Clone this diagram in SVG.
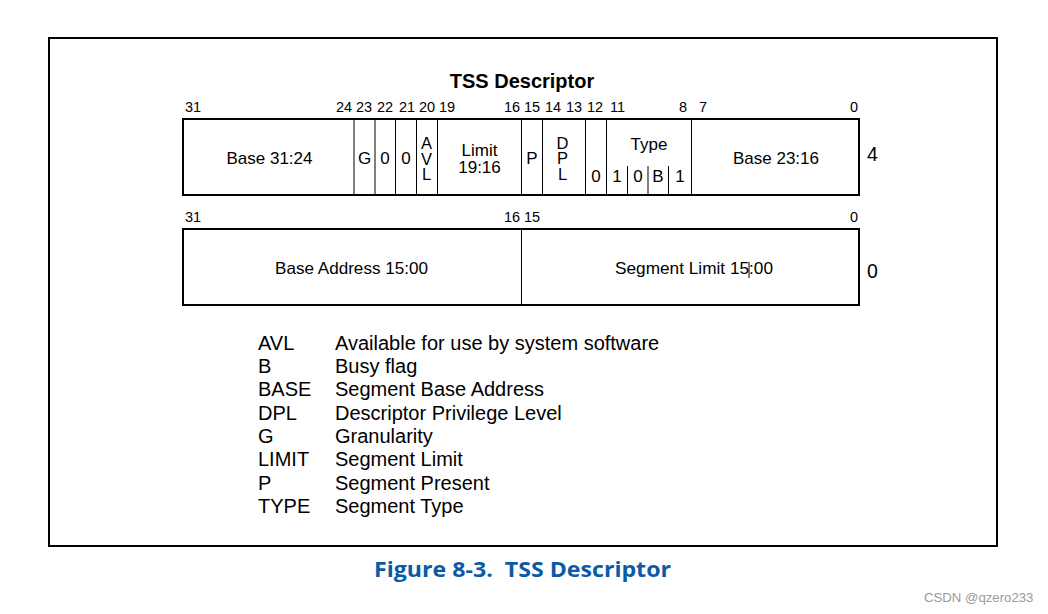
<svg xmlns="http://www.w3.org/2000/svg" width="1048" height="614" viewBox="0 0 1048 614">
<style>
.t{font-family:"Liberation Sans",Arial,sans-serif;fill:#000}
.bit{font-size:14.5px}
.cell{font-size:17px;text-anchor:middle}
.vert{font-size:16.5px;text-anchor:middle}
.leg{font-size:20px}
.frame{fill:none;stroke:#000;stroke-width:2}
.row{fill:#fff;stroke:#000;stroke-width:2}
.div{stroke:#000;stroke-width:1}
</style>
<rect x="0" y="0" width="1048" height="614" fill="#fff"/>
<rect class="frame" x="49" y="38" width="948" height="508"/>
<text class="t" x="522" y="88" font-size="20" font-weight="bold" text-anchor="middle">TSS Descriptor</text>

<g id="bits-top" class="t bit">
<text x="185" y="112">31</text>
<text x="336" y="112">24</text>
<text x="356" y="112">23</text>
<text x="377" y="112">22</text>
<text x="399" y="112">21</text>
<text x="419" y="112">20</text>
<text x="439" y="112">19</text>
<text x="504" y="112">16</text>
<text x="524" y="112">15</text>
<text x="545" y="112">14</text>
<text x="566" y="112">13</text>
<text x="587" y="112">12</text>
<text x="610" y="112">11</text>
<text x="679" y="112">8</text>
<text x="699" y="112">7</text>
<text x="850" y="112">0</text>
</g>

<g id="row-high">
<rect class="row" x="183" y="119" width="676" height="76"/>
<line class="div" x1="354" y1="119" x2="354" y2="195"/>
<line class="div" x1="375" y1="119" x2="375" y2="195"/>
<line class="div" x1="395.5" y1="119" x2="395.5" y2="195"/>
<line class="div" x1="416.5" y1="119" x2="416.5" y2="195"/>
<line class="div" x1="437.5" y1="119" x2="437.5" y2="195"/>
<line class="div" x1="521.5" y1="119" x2="521.5" y2="195"/>
<line class="div" x1="542.5" y1="119" x2="542.5" y2="195"/>
<line class="div" x1="585.5" y1="119" x2="585.5" y2="195"/>
<line class="div" x1="606.5" y1="119" x2="606.5" y2="195"/>
<line class="div" x1="627.5" y1="166" x2="627.5" y2="195"/>
<line class="div" x1="648" y1="166" x2="648" y2="195"/>
<line class="div" x1="668.5" y1="166" x2="668.5" y2="195"/>
<line class="div" x1="691.5" y1="119" x2="691.5" y2="195"/>
<g class="t cell">
<text x="269.5" y="164">Base 31:24</text>
<text x="364.5" y="164">G</text>
<text x="385" y="164">0</text>
<text x="406" y="164">0</text>
<text x="479.5" y="156">Limit</text>
<text x="479.5" y="173">19:16</text>
<text x="532" y="164">P</text>
<text x="596" y="182">0</text>
<text x="649" y="150">Type</text>
<text x="617" y="182">1</text>
<text x="638" y="182">0</text>
<text x="658" y="182">B</text>
<text x="680" y="182">1</text>
<text x="776" y="164">Base 23:16</text>
</g>
<g class="t vert">
<text x="426.5" y="149">A</text>
<text x="426.5" y="164.5">V</text>
<text x="426.5" y="180">L</text>
<text x="562.5" y="149">D</text>
<text x="562.5" y="164">P</text>
<text x="562.5" y="180">L</text>
</g>
<text class="t" x="867" y="161" font-size="19.5">4</text>
</g>

<g id="bits-low" class="t bit">
<text x="185" y="222">31</text>
<text x="504" y="222">16</text>
<text x="524" y="222">15</text>
<text x="850" y="222">0</text>
</g>

<g id="row-low">
<rect class="row" x="183" y="229" width="676" height="76"/>
<line class="div" x1="521.5" y1="229" x2="521.5" y2="305"/>
<g class="t">
<text x="275" y="274" font-size="16.5" textLength="153" lengthAdjust="spacingAndGlyphs">Base Address 15:00</text>
<text x="615" y="274" font-size="16.5" textLength="158" lengthAdjust="spacingAndGlyphs">Segment Limit 15:00</text>
</g>
<line class="div" x1="749" y1="262" x2="749" y2="278"/>
<text class="t" x="867" y="278" font-size="19.5">0</text>
</g>

<g id="legend" class="t leg">
<text x="258" y="350">AVL</text><text x="335" y="350">Available for use by system software</text>
<text x="258" y="373">B</text><text x="335" y="373">Busy flag</text>
<text x="258" y="396">BASE</text><text x="335" y="396">Segment Base Address</text>
<text x="258" y="420">DPL</text><text x="335" y="420">Descriptor Privilege Level</text>
<text x="258" y="443">G</text><text x="335" y="443">Granularity</text>
<text x="258" y="466">LIMIT</text><text x="335" y="466">Segment Limit</text>
<text x="258" y="490">P</text><text x="335" y="490">Segment Present</text>
<text x="258" y="513">TYPE</text><text x="335" y="513">Segment Type</text>
</g>

<text x="374" y="577" font-family="'Open Sans','Noto Sans',sans-serif" font-weight="bold" font-size="22" fill="#0b5aa6" textLength="297" lengthAdjust="spacingAndGlyphs" xml:space="preserve">Figure 8-3.  TSS Descriptor</text>
<text x="924" y="602" font-family="'Liberation Sans',Arial,sans-serif" font-size="13.2" fill="#9a9a9a">CSDN @qzero233</text>
</svg>
